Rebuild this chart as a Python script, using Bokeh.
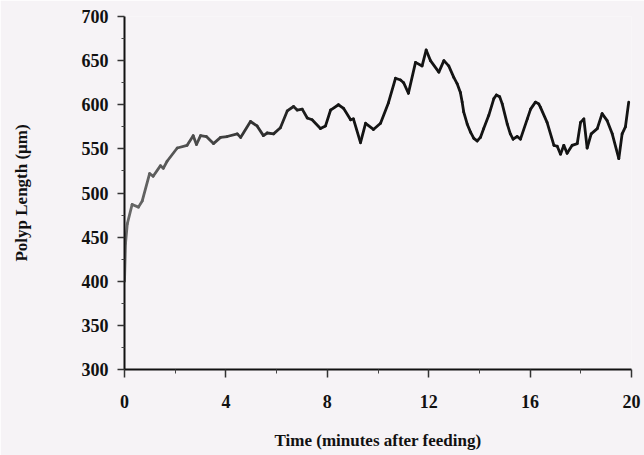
from bokeh.plotting import figure
from bokeh.models import Range1d, FixedTicker, ColumnDataSource
from bokeh.embed import file_html
from bokeh.resources import INLINE

# Polyp length after feeding
time_min = [0.00, 0.04, 0.11, 0.30, 0.55, 0.70, 0.99, 1.13, 1.42, 1.53, 1.68,
            2.08, 2.47, 2.71, 2.84, 3.00, 3.23, 3.51, 3.79, 4.05, 4.45, 4.58,
            4.97, 5.23, 5.48, 5.63, 5.88, 6.15, 6.42, 6.67, 6.81, 7.01, 7.21,
            7.40, 7.73, 7.93, 8.13, 8.44, 8.64, 8.92, 9.03, 9.31, 9.51, 9.82,
            10.10, 10.41, 10.69, 10.89, 11.01, 11.20, 11.48, 11.74, 11.90,
            12.07, 12.40, 12.60, 12.79, 12.99, 13.12, 13.25, 13.32, 13.38,
            13.52, 13.65, 13.78, 13.91, 14.04, 14.17, 14.37, 14.57, 14.67,
            14.80, 14.90, 15.10, 15.22, 15.33, 15.49, 15.62, 15.89, 16.02,
            16.21, 16.34, 16.41, 16.67, 16.94, 17.07, 17.20, 17.33, 17.46,
            17.66, 17.86, 17.99, 18.12, 18.25, 18.41, 18.65, 18.84, 19.04,
            19.24, 19.50, 19.63, 19.76, 19.89]
length_um = [400, 443, 465, 487, 484, 491, 522, 519, 531, 528, 536,
             551, 554, 565, 555, 565, 564, 556, 563, 564, 567, 563,
             581, 576, 565, 568, 567, 574, 593, 598, 594, 595, 585,
             583, 573, 576, 594, 600, 596, 583, 584, 557, 579, 572,
             579, 602, 630, 628, 625, 613, 648, 644, 662,
             650, 637, 650, 644, 631, 624, 614, 603, 592,
             578, 569, 562, 559, 563, 573, 588, 607, 611,
             609, 601, 578, 567, 561, 564, 561, 584, 595,
             603, 601, 597, 580, 554, 553, 544, 554, 545,
             554, 556, 580, 584, 551, 567, 573, 590, 582,
             567, 539, 567, 575, 603]

x_major = [0, 4, 8, 12, 16, 20]
x_minor = [2, 6, 10, 14, 18]
y_major = [300, 350, 400, 450, 500, 550, 600, 650, 700]
y_minor = [325, 375, 425, 475, 525, 575, 625, 675]

BG = "#f6f3f6"
FONT = "Liberation Serif"

p = figure(frame_width=507, frame_height=353,
           min_border_left=124, min_border_right=13,
           min_border_top=16, min_border_bottom=86,
           x_range=Range1d(0, 20), y_range=Range1d(300, 700),
           output_backend="svg", toolbar_location=None,
           background_fill_color=BG, border_fill_color=BG)
p.outline_line_color = None
p.grid.visible = False

# trace shades from grey to black as time goes on
def shade(t):
    f = min(t / 8.0, 1.0)
    g = int(round(0x6a + (0x14 - 0x6a) * f))
    return "#%02x%02x%02x" % (g, g, g)

seg = ColumnDataSource(dict(
    x0=time_min[:-1], y0=length_um[:-1],
    x1=time_min[1:], y1=length_um[1:],
    c=[shade((a + b) / 2) for a, b in zip(time_min[:-1], time_min[1:])],
))
p.segment("x0", "y0", "x1", "y1", source=seg, line_color="c",
          line_width=2.8, line_cap="round")

xa = p.xaxis[0]
xa.ticker = FixedTicker(ticks=x_major, minor_ticks=x_minor)
xa.axis_label = "Time (minutes after feeding)"
xa.major_tick_in = 0
xa.major_tick_out = 8
xa.minor_tick_in = 0
xa.minor_tick_out = 4
xa.major_label_standoff = 17
xa.axis_label_standoff = 20

ya = p.yaxis[0]
ya.ticker = FixedTicker(ticks=y_major, minor_ticks=y_minor)
ya.axis_label = "Polyp Length (\u03bcm)"
ya.major_tick_in = 0
ya.major_tick_out = 7
ya.minor_tick_in = 0
ya.minor_tick_out = 3
ya.major_label_standoff = 9
ya.axis_label_standoff = 48

for ax in (xa, ya):
    ax.axis_line_width = 2
    ax.axis_line_color = "#111111"
    ax.major_tick_line_color = "#333333"
    ax.major_tick_line_width = 1.5
    ax.minor_tick_line_color = "#444444"
    ax.major_label_text_font = FONT
    ax.major_label_text_font_style = "bold"
    ax.major_label_text_font_size = "18px"
    ax.major_label_text_color = "#111111"
    ax.axis_label_text_font = FONT
    ax.axis_label_text_font_style = "bold"
    ax.axis_label_text_font_size = "17px"
    ax.axis_label_text_color = "#111111"

open("out.html", "w").write(file_html(p, INLINE))
